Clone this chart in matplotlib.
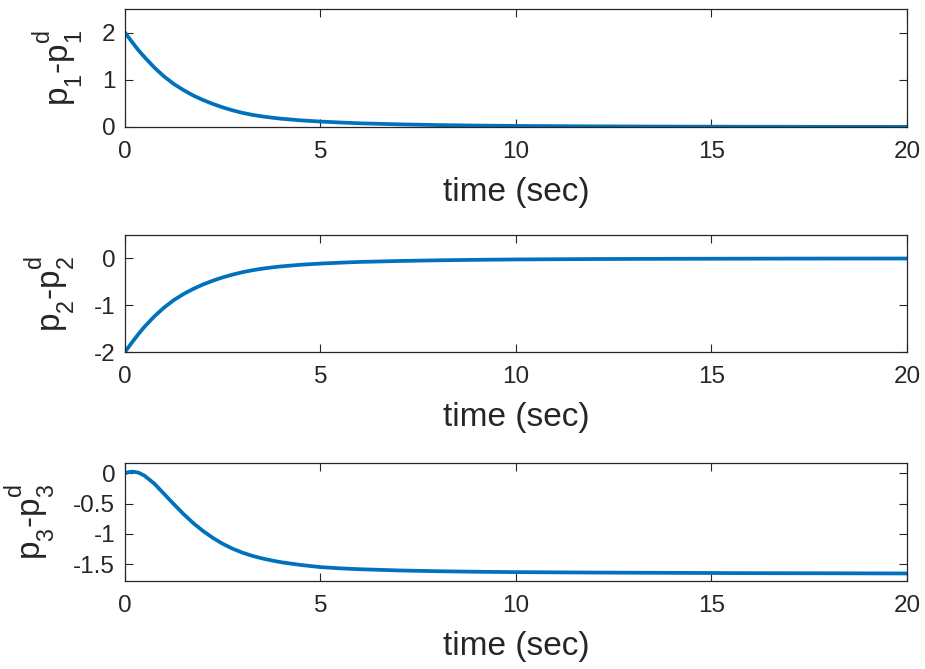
import numpy as np
import matplotlib
matplotlib.use("Agg")
import matplotlib.pyplot as plt
import matplotlib._mathtext as mathtext

plt.rcParams['font.family'] = ['Liberation Sans', 'DejaVu Sans']
plt.rcParams['mathtext.fontset'] = 'custom'
plt.rcParams['mathtext.rm'] = 'Liberation Sans'
plt.rcParams['mathtext.it'] = 'Liberation Sans'
plt.rcParams['axes.unicode_minus'] = False

# TeX-like offsets: raise superscripts / drop subscripts a bit further
mathtext.FontConstantsBase.sup1 = 1.0
mathtext.FontConstantsBase.sub1 = 0.8
mathtext.FontConstantsBase.sub2 = 0.8

# time samples (sec)
t = [0, 0.1, 0.2, 0.35, 0.5, 0.75, 1, 1.25, 1.5, 1.75, 2, 2.25, 2.5, 2.75,
     3, 3.25, 3.5, 3.75, 4, 4.5, 5, 5.5, 6, 7, 8, 9, 10, 12, 14, 16, 18, 20]

# position errors p_i - p_i^d
err_p1 = [2.00, 1.89, 1.78, 1.62, 1.48, 1.26, 1.07, 0.91, 0.78, 0.665, 0.57,
          0.488, 0.415, 0.353, 0.30, 0.258, 0.225, 0.198, 0.175, 0.14, 0.115,
          0.095, 0.078, 0.056, 0.04, 0.03, 0.022, 0.013, 0.008, 0.005, 0.003,
          0.002]
err_p2 = [-2.00, -1.885, -1.773, -1.61, -1.46, -1.24, -1.05, -0.89, -0.76,
          -0.65, -0.555, -0.475, -0.405, -0.346, -0.295, -0.254, -0.22,
          -0.193, -0.17, -0.135, -0.11, -0.091, -0.075, -0.055, -0.04, -0.03,
          -0.022, -0.013, -0.008, -0.005, -0.003, -0.002]
err_p3 = [0.00, 0.02, 0.028, 0.01, -0.04, -0.17, -0.34, -0.51, -0.675,
          -0.825, -0.955, -1.068, -1.165, -1.245, -1.31, -1.363, -1.405,
          -1.44, -1.47, -1.515, -1.55, -1.57, -1.585, -1.605, -1.618, -1.627,
          -1.633, -1.64, -1.645, -1.65, -1.652, -1.655]

ylabels = [r'p$_1$-p$_1^d$', r'p$_2$-p$_2^d$', r'p$_3$-p$_3^d$']
yticks = [[0, 1, 2], [-2, -1, 0], [-1.5, -1, -0.5, 0]]
yticklabels = [['0', '1', '2'], ['-2', '-1', '0'], ['-1.5', '-1', '-0.5', '0']]
ylims = [(0, 2.5), (-2, 0.5), (-1.78, 0.17)]
xticks = [0, 5, 10, 15, 20]

# axes boxes in figure fractions [left, bottom, width, height]
boxes = [[0.1351, 0.8102, 0.8454, 0.1764],
         [0.1351, 0.4738, 0.8454, 0.1749],
         [0.1351, 0.1315, 0.8454, 0.1764]]

fig = plt.figure(figsize=(9.25, 6.69), dpi=100)
edge = '#262626'

for box, y, lab, yt, ytl, yl in zip(boxes, [err_p1, err_p2, err_p3], ylabels,
                                     yticks, yticklabels, ylims):
    ax = fig.add_axes(box)
    ax.plot(t, y, color='#0072BD', linewidth=2.7, solid_joinstyle='round')
    ax.set_xlim(0, 20)
    ax.set_ylim(*yl)
    ax.set_xticks(xticks)
    ax.set_xticklabels([str(v) for v in xticks])
    ax.set_yticks(yt)
    ax.set_yticklabels(ytl)
    ax.tick_params(direction='in', top=True, right=True, length=6,
                   width=0.8, colors=edge, labelsize=17.5)
    ax.tick_params(axis='x', pad=10)
    ax.tick_params(axis='y', pad=7)
    for sp in ax.spines.values():
        sp.set_color(edge)
        sp.set_linewidth(0.9)
    ax.set_xlabel('time (sec)', fontsize=24, color=edge, labelpad=10)
    ax.set_ylabel(lab, fontsize=24, color=edge, labelpad=11)

fig.savefig('out.png', dpi=100, facecolor='white')
